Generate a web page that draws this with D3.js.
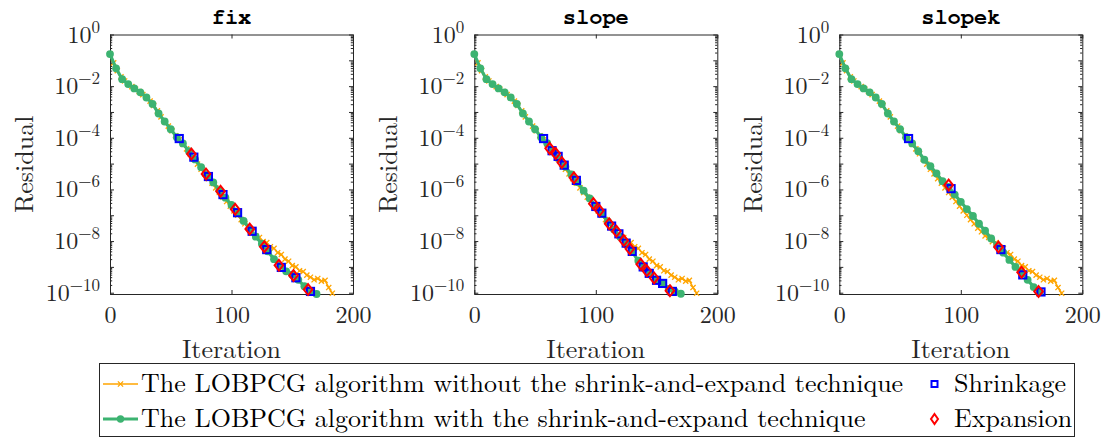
<!DOCTYPE html>
<html><head><meta charset="utf-8">
<script src="https://cdn.jsdelivr.net/npm/d3@7"></script>
<style>body{margin:0;background:#fff}svg{display:block}</style>
</head><body>
<svg id="c" width="1107" height="438"></svg>
<script>
// ---------------- data (log10 of residual) ----------------
const panelTitles = ["fix", "slope", "slopek"];
const xTickValues = [0, 100, 200];
const yTickExponents = [0, -2, -4, -6, -8, -10];

const greenIter = [0,5,10,15,20,25,30,35,40,45,50,55,60,65,70,75,80,85,90,95,100,105,110,115,120,125,130,135,140,145,150,155,160,165,170];
const greenFixLog = [-0.76,-1.31,-1.73,-1.92,-2.09,-2.24,-2.44,-2.69,-3.06,-3.37,-3.67,-3.98,
  -4.22,-4.52,-4.84,-5.14,-5.45,-5.73,-6.03,-6.32,-6.60,-6.91,-7.22,-7.52,-7.83,-8.10,-8.40,-8.70,-8.96,-9.17,-9.30,-9.50,-9.75,-9.93,-10.05];
const greenSlopeLog = [-0.76,-1.31,-1.73,-1.92,-2.09,-2.24,-2.44,-2.69,-3.06,-3.37,-3.67,-3.98,
  -4.21,-4.52,-4.82,-5.12,-5.42,-5.72,-6.05,-6.35,-6.64,-6.93,-7.25,-7.55,-7.83,-8.12,-8.42,-8.76,-9.05,-9.28,-9.50,-9.65,-9.85,-9.95,-10.04];
const greenSlopekLog = [-0.76,-1.31,-1.73,-1.92,-2.09,-2.24,-2.44,-2.69,-3.06,-3.37,-3.67,-3.98,
  -4.22,-4.52,-4.85,-5.10,-5.38,-5.68,-5.90,-6.20,-6.48,-6.76,-7.03,-7.33,-7.60,-7.90,-8.18,-8.45,-8.73,-9.00,-9.22,-9.50,-9.78,-9.97];

const orangeIter = [0,3,6,9,12,15,18,21,24,27,30,33,36,39,42,45,48,51,54,57,60,63,66,69,72,75,78,81,84,87,90,93,96,99,102,105,108,111,114,117,120,123,126,129,132,135,138,141,144,147,150,153,156,159,162,165,168,171,174,177,180,183];
const orangeLog = [-0.76,-1.10,-1.40,-1.64,-1.80,-1.92,-2.02,-2.12,-2.21,-2.33,
  -2.44,-2.58,-2.75,-2.96,-3.19,-3.37,-3.55,-3.73,-3.92,-4.08,
  -4.25,-4.43,-4.62,-4.82,-5.02,-5.22,-5.40,-5.58,-5.76,-5.94,
  -6.12,-6.30,-6.47,-6.65,-6.83,-7.00,-7.17,-7.33,-7.50,-7.64,
  -7.80,-7.86,-8.02,-8.06,-8.22,-8.28,-8.45,-8.52,-8.70,-8.78,
  -8.95,-9.00,-9.15,-9.18,-9.32,-9.40,-9.50,-9.45,-9.55,-9.52,
  -9.80,-10.02];

const shrinkFixIter = [57,69,81,93,105,117,129,141,153,165];
const shrinkFixLog  = [-4.03,-4.75,-5.50,-6.20,-6.90,-7.62,-8.33,-9.02,-9.42,-9.95];
const expandFixIter = [67,79,91,103,115,127,139,151,163];
const expandFixLog  = [-4.63,-5.40,-6.07,-6.77,-7.53,-8.22,-8.94,-9.33,-9.88];

const shrinkSlopeIter = [57,64,69,74,84,100,105,113,119,125,130,139,144,150,155,163];
const shrinkSlopeLog  = [-4.03,-4.50,-4.72,-5.06,-5.65,-6.66,-6.92,-7.42,-7.72,-8.08,-8.40,-9.00,-9.25,-9.52,-9.64,-9.95];
const expandSlopeIter = [62,67,72,82,98,103,111,117,123,128,137,142,148,161];
const expandSlopeLog  = [-4.41,-4.61,-4.96,-5.55,-6.55,-6.82,-7.33,-7.62,-7.98,-8.30,-8.90,-9.15,-9.43,-9.92];

const shrinkSlopekIter = [57,92,133,151,166];
const shrinkSlopekLog  = [-4.03,-5.97,-8.33,-9.31,-9.97];
const expandSlopekIter = [90,131,150,164];
const expandSlopekLog  = [-5.83,-8.23,-9.21,-9.95];

const legendLabels = [
  "The LOBPCG algorithm without the shrink-and-expand technique",
  "The LOBPCG algorithm with the shrink-and-expand technique",
  "Shrinkage",
  "Expansion"
];
const xLabel = "Iteration", yLabel = "Residual";

// ---------------- drawing ----------------
const svg = d3.select("#c");
const SERIF = "Latin Modern Roman, Liberation Serif, serif";
const MONO = "Nimbus Mono PS, FreeMono, Latin Modern Mono, Courier, Liberation Mono, monospace";
const TXT = "#262626";
const GREEN = "#3CB371", ORANGE = "#FFA500";

const greenSets = [greenFixLog, greenSlopeLog, greenSlopekLog];
const shrinkSets = [[shrinkFixIter, shrinkFixLog], [shrinkSlopeIter, shrinkSlopeLog], [shrinkSlopekIter, shrinkSlopekLog]];
const expandSets = [[expandFixIter, expandFixLog], [expandSlopeIter, expandSlopeLog], [expandSlopekIter, expandSlopekLog]];

const panelLeft = [110, 474.3, 839.3];
const panelW = 243, yTop = 34.5, yBottom = 294;

const zip = (xs, ls) => ls.map((l, k) => [xs[k], Math.pow(10, l)]);
const xMarkPath = "M-2.6,-2.6L2.6,2.6M-2.6,2.6L2.6,-2.6";
const diamondPath = "M0,-5.4L4.3,0L0,5.4L-4.3,0Z";

panelTitles.forEach((title, i) => {
  const L = panelLeft[i], R = L + panelW;
  const x = d3.scaleLinear().domain([0, 200]).range([L, R]);
  const y = d3.scaleLog().domain([Math.pow(10, -10.05), 1]).range([yBottom, yTop]);
  const g = svg.append("g");

  const decades = d3.range(0, -11, -1).map(e => Math.pow(10, e));
  const minors = [];
  for (let e = -11; e < 0; e++) for (let m = 2; m <= 9; m++) {
    const v = m * Math.pow(10, e);
    if (v >= y.domain()[0] && v <= 1) minors.push(v);
  }

  const styleAxis = a => {
    a.selectAll(".domain").attr("stroke", TXT).attr("stroke-width", 1);
    a.selectAll(".tick line").attr("stroke", TXT).attr("stroke-width", 1);
  };

  g.append("g").attr("transform", `translate(${L},0)`)
    .call(d3.axisLeft(y).tickValues(minors).tickSize(-2.2).tickFormat(""))
    .call(a => a.select(".domain").remove()).call(styleAxis);
  g.append("g").attr("transform", `translate(${R},0)`)
    .call(d3.axisRight(y).tickValues(minors).tickSize(-2.2).tickFormat(""))
    .call(a => a.select(".domain").remove()).call(styleAxis);
  g.append("g").attr("transform", `translate(${L},0)`)
    .call(d3.axisLeft(y).tickValues(decades).tickSize(-4).tickSizeOuter(0).tickFormat("")).call(styleAxis);
  g.append("g").attr("transform", `translate(${R},0)`)
    .call(d3.axisRight(y).tickValues(decades).tickSize(-4).tickSizeOuter(0).tickFormat("")).call(styleAxis);
  const xb = g.append("g").attr("transform", `translate(0,${yBottom})`)
    .call(d3.axisBottom(x).tickValues(xTickValues).tickSize(-4).tickSizeOuter(0).tickPadding(12)).call(styleAxis);
  xb.selectAll("text").style("font-family", SERIF).attr("font-size", 24).attr("fill", TXT);
  g.append("g").attr("transform", `translate(0,${yTop})`)
    .call(d3.axisTop(x).tickValues(xTickValues).tickSize(-4).tickSizeOuter(0).tickFormat("")).call(styleAxis);

  const yl = g.append("g").selectAll("text").data(yTickExponents).join("text")
    .attr("x", L - 10).attr("y", e => y(Math.pow(10, e)) + 8)
    .attr("text-anchor", "end").style("font-family", SERIF).attr("fill", TXT).attr("font-size", 24);
  yl.append("tspan").text("10");
  yl.append("tspan").attr("font-size", 17).attr("dy", -10).text(e => e === 0 ? "0" : "\u2212" + Math.abs(e));

  g.append("text").attr("x", (L + R) / 2).attr("y", 24).attr("text-anchor", "middle")
    .style("font-family", MONO).attr("font-weight", "bold").attr("font-size", 22).attr("fill", "#000").text(title);
  g.append("text").attr("x", (L + R) / 2).attr("y", 358).attr("text-anchor", "middle")
    .style("font-family", SERIF).attr("font-size", 26).attr("fill", TXT).text(xLabel);
  g.append("text").attr("transform", `translate(${L - 77},${(yTop + yBottom) / 2}) rotate(-90)`)
    .attr("text-anchor", "middle").style("font-family", SERIF).attr("font-size", 26).attr("fill", TXT)
    .text(yLabel);

  const line = d3.line().x(d => x(d[0])).y(d => y(d[1]));

  const od = zip(orangeIter, orangeLog);
  g.append("path").datum(od).attr("d", line).attr("fill", "none").attr("stroke", ORANGE).attr("stroke-width", 1.6);
  g.append("g").selectAll("path").data(od).join("path")
    .attr("transform", d => `translate(${x(d[0])},${y(d[1])})`).attr("d", xMarkPath)
    .attr("stroke", ORANGE).attr("stroke-width", 1.3).attr("fill", "none");

  const gd = zip(greenIter, greenSets[i]);
  g.append("path").datum(gd).attr("d", line).attr("fill", "none").attr("stroke", GREEN).attr("stroke-width", 3.2);
  g.append("g").selectAll("circle").data(gd).join("circle")
    .attr("cx", d => x(d[0])).attr("cy", d => y(d[1])).attr("r", 3.9).attr("fill", GREEN);

  const sd = zip(shrinkSets[i][0], shrinkSets[i][1]);
  g.append("g").selectAll("rect").data(sd).join("rect")
    .attr("x", d => x(d[0]) - 3.6).attr("y", d => y(d[1]) - 3.6).attr("width", 7.2).attr("height", 7.2)
    .attr("fill", "none").attr("stroke", "#0000FF").attr("stroke-width", 2);
  const ed = zip(expandSets[i][0], expandSets[i][1]);
  g.append("g").selectAll("path").data(ed).join("path")
    .attr("transform", d => `translate(${x(d[0])},${y(d[1])})`).attr("d", diamondPath)
    .attr("fill", "none").attr("stroke", "#FF0000").attr("stroke-width", 2);
});

// ---------------- legend ----------------
const lg = svg.append("g");
lg.append("rect").attr("x", 99.5).attr("y", 363.5).attr("width", 975).attr("height", 73)
  .attr("fill", "#fff").attr("stroke", TXT).attr("stroke-width", 1);
const rows = [384, 419];
const entries = [
  {label: legendLabels[0], kind: "orange", x: 103, row: 0},
  {label: legendLabels[1], kind: "green", x: 103, row: 1},
  {label: legendLabels[2], kind: "shrink", x: 934.5, row: 0},
  {label: legendLabels[3], kind: "expand", x: 934.5, row: 1}
];
entries.forEach((e) => {
  const cy = rows[e.row];
  let tx;
  if (e.kind === "orange" || e.kind === "green") {
    const col = e.kind === "orange" ? ORANGE : GREEN;
    lg.append("line").attr("x1", e.x).attr("x2", e.x + 35).attr("y1", cy).attr("y2", cy)
      .attr("stroke", col).attr("stroke-width", e.kind === "orange" ? 1.6 : 3);
    if (e.kind === "orange")
      lg.append("path").attr("transform", `translate(${e.x + 17.5},${cy})`).attr("d", xMarkPath)
        .attr("stroke", col).attr("stroke-width", 1.3);
    else
      lg.append("circle").attr("cx", e.x + 17.5).attr("cy", cy).attr("r", 3.7).attr("fill", col);
    tx = 141;
  } else if (e.kind === "shrink") {
    lg.append("rect").attr("x", e.x - 3).attr("y", cy - 3).attr("width", 6).attr("height", 6)
      .attr("fill", "none").attr("stroke", "#0000FF").attr("stroke-width", 2);
    tx = 954;
  } else {
    lg.append("path").attr("transform", `translate(${e.x},${cy})`).attr("d", "M0,-5L3.5,0L0,5L-3.5,0Z")
      .attr("fill", "none").attr("stroke", "#FF0000").attr("stroke-width", 2);
    tx = 954;
  }
  lg.append("text").attr("x", tx).attr("y", cy + 8).style("font-family", SERIF).attr("font-size", 26)
    .attr("fill", "#000").text(e.label);
});
</script>
</body></html>
